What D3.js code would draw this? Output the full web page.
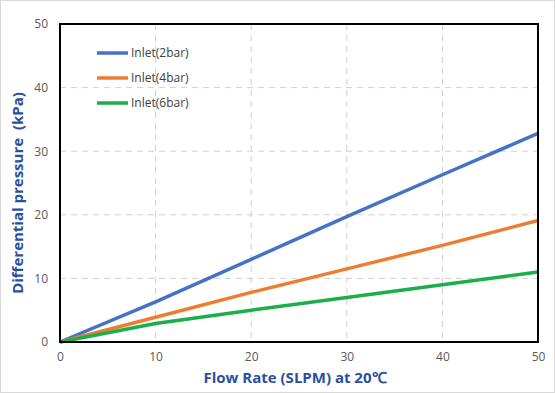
<!DOCTYPE html>
<html><head><meta charset="utf-8">
<script src="https://cdn.jsdelivr.net/npm/d3@7"></script>
<style>body{margin:0;background:#fff}svg{display:block}</style>
</head><body>
<svg id="c" width="555" height="393"></svg>
<script>
const flow = [0, 10, 20, 30, 40, 50];
const inlet2 = [0, 6.3, 13.0, 19.7, 26.3, 32.8];
const inlet4 = [0, 3.9, 7.8, 11.5, 15.2, 19.1];
const inlet6 = [0, 2.9, 5.0, 7.0, 9.0, 11.0];
const seriesNames = ["Inlet(2bar)", "Inlet(4bar)", "Inlet(6bar)"];
const seriesColors = ["#4472C4", "#ED7D31", "#1AAF4B"];
const xTicks = [0, 10, 20, 30, 40, 50];
const yTicks = [0, 10, 20, 30, 40, 50];

const svg = d3.select("#c");
svg.append("rect").attr("x",0.5).attr("y",0.5).attr("width",554).attr("height",392)
  .attr("fill","#fff").attr("stroke","#d9d9d9");
const L=60, R=538, T=24, B=342;
const x = d3.scaleLinear().domain([0,50]).range([L,R]);
const y = d3.scaleLinear().domain([0,50]).range([B,T]);

const g = svg.append("g");
// grid
g.selectAll(".vg").data(xTicks.filter(d=>d>0&&d<50)).join("line")
  .attr("x1",d=>x(d)).attr("x2",d=>x(d)).attr("y1",T).attr("y2",B)
  .attr("stroke","#d0d0d0").attr("stroke-width",1).attr("stroke-dasharray","6,5");
g.selectAll(".hg").data(yTicks.filter(d=>d>0&&d<50)).join("line")
  .attr("x1",L).attr("x2",R).attr("y1",d=>y(d)).attr("y2",d=>y(d))
  .attr("stroke","#d0d0d0").attr("stroke-width",1).attr("stroke-dasharray","6,5");

// axes labels via d3 axes
const xa = svg.append("g").attr("transform",`translate(0,${B})`)
  .call(d3.axisBottom(x).tickValues(xTicks).tickSize(0).tickPadding(10));
const ya = svg.append("g").attr("transform",`translate(${L},0)`)
  .call(d3.axisLeft(y).tickValues(yTicks).tickSize(0).tickPadding(12));
[xa,ya].forEach(a=>{a.select(".domain").remove();
  a.selectAll("text").attr("fill","#595959").style("font-family","'Open Sans', sans-serif").style("font-size","12px");});

// lines
const all = [inlet2, inlet4, inlet6];
const line = d3.line().x((d,i)=>x(flow[i])).y(d=>y(d));
all.forEach((s,k)=>{
  svg.append("path").attr("d",line(s)).attr("fill","none")
    .attr("stroke",seriesColors[k]).attr("stroke-width",3.5);
});

// frame
svg.append("rect").attr("x",L).attr("y",T).attr("width",R-L).attr("height",B-T)
  .attr("fill","none").attr("stroke","#000").attr("stroke-width",2);

// legend
seriesNames.forEach((n,k)=>{
  const yy = 53 + k*25;
  svg.append("line").attr("x1",97).attr("x2",128).attr("y1",yy).attr("y2",yy)
    .attr("stroke",seriesColors[k]).attr("stroke-width",3.5);
  svg.append("text").attr("x",131).attr("y",yy+4).text(n)
    .attr("fill","#404040").style("font-family","'Open Sans', sans-serif").style("font-size","12px");
});

// titles
svg.append("text").attr("x",295).attr("y",383).attr("text-anchor","middle")
  .text("Flow Rate (SLPM) at 20℃").attr("fill","#2A4F9E")
  .style("font-family","'Open Sans', sans-serif").style("font-size","15px").style("font-weight","bold");
svg.append("text").attr("transform",`translate(23,193) rotate(-90)`).attr("text-anchor","middle")
  .style("white-space","pre")
  .text("Differential pressure  (kPa)").attr("fill","#2A4F9E")
  .style("font-family","'Open Sans', sans-serif").style("font-size","15px").style("font-weight","bold");
</script>
</body></html>
